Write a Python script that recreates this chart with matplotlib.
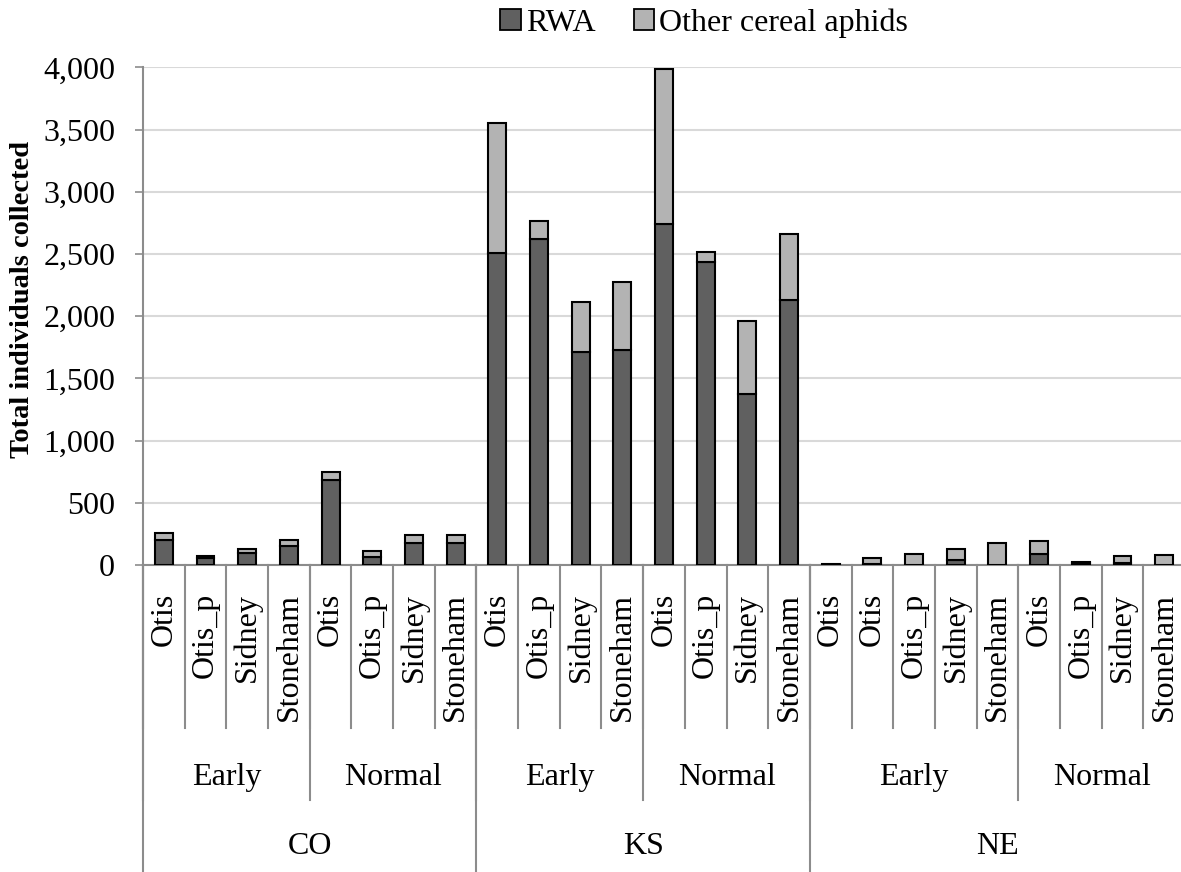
import matplotlib
matplotlib.use('Agg')
import matplotlib.pyplot as plt
from matplotlib.patches import Patch
import numpy as np

plt.rcParams['font.family'] = ['Liberation Serif', 'DejaVu Serif']

# data
states = ['CO', 'KS', 'NE']
state_sizes = [8, 8, 9]
timings = ['Early', 'Normal', 'Early', 'Normal', 'Early', 'Normal']
timing_sizes = [4, 4, 4, 4, 5, 4]
sites = ['Otis', 'Otis_p', 'Sidney', 'Stoneham', 'Otis', 'Otis_p', 'Sidney', 'Stoneham',
         'Otis', 'Otis_p', 'Sidney', 'Stoneham', 'Otis', 'Otis_p', 'Sidney', 'Stoneham',
         'Otis', 'Otis', 'Otis_p', 'Sidney', 'Stoneham', 'Otis', 'Otis_p', 'Sidney', 'Stoneham']
rwa = [200, 55, 100, 150, 680, 65, 180, 175,
       2510, 2625, 1715, 1730, 2740, 2440, 1375, 2130,
       3, 10, 3, 40, 3, 85, 20, 18, 3]
other = [55, 20, 30, 55, 70, 50, 65, 65,
         1045, 140, 400, 545, 1250, 75, 585, 530,
         7, 50, 82, 85, 172, 110, 4, 54, 77]

W, H = 1181, 872
fig = plt.figure(figsize=(W / 100, H / 100), dpi=100)
y0, y1 = 565, 67.5
ax = fig.add_axes([143 / W, 1 - y0 / H, 1042 / W, (y0 - y1) / H])

x = np.arange(len(sites))
dark = '#606060'
light = '#b3b3b3'
ax.bar(x, rwa, width=0.43, color=dark, edgecolor='black', linewidth=1.5, zorder=3)
ax.bar(x, other, bottom=rwa, width=0.43, color=light, edgecolor='black', linewidth=1.5, zorder=3)

ax.set_xlim(-0.5, len(sites) - 0.5)
ax.set_ylim(0, 4000)
ax.set_yticks(np.arange(0, 4001, 500))
ax.set_yticklabels([f'{v:,}' for v in range(0, 4001, 500)], fontsize=23)
ax.tick_params(axis='y', direction='out', length=6, width=1.2, color='#8c8c8c', pad=14)
ax.set_xticks([])
ax.grid(axis='y', color='#d9d9d9', linewidth=1.5, zorder=0)
for s in ['top', 'right']:
    ax.spines[s].set_visible(False)
ax.spines['left'].set_color('#8c8c8c')
ax.spines['bottom'].set_color('#8c8c8c')
ax.spines['left'].set_linewidth(1.5)
ax.spines['bottom'].set_linewidth(1.5)

ax.set_ylabel('Total individuals collected', fontsize=20.5, fontweight='bold')
ax.yaxis.set_label_coords((35 - 143) / 1042, (565 - 299) / 497.5)

# hierarchical category axis
ah = y0 - y1
def fy(py):
    return (y0 - py) / ah

tr = ax.get_xaxis_transform()
sep = '#8c8c8c'
for i in range(len(sites)):
    ax.text(i, fy(593), sites[i], rotation=90, ha='center', va='top',
            fontsize=23, transform=tr)
    ax.plot([i - 0.5, i - 0.5], [0, fy(728)], color=sep, lw=1.5, transform=tr, clip_on=False)

start = 0
for name, n in zip(timings, timing_sizes):
    ax.text(start + n / 2 - 0.5, fy(777), name, ha='center', va='center',
            fontsize=23, transform=tr)
    ax.plot([start - 0.5, start - 0.5], [0, fy(800)], color=sep, lw=1.5, transform=tr, clip_on=False)
    start += n

start = 0
for name, n in zip(states, state_sizes):
    ax.text(start + n / 2 - 0.5, fy(847), name, ha='center', va='center',
            fontsize=23, transform=tr)
    ax.plot([start - 0.5, start - 0.5], [0, fy(880)], color=sep, lw=1.5, transform=tr, clip_on=False)
    start += n

handles = [Patch(facecolor=dark, edgecolor='black', linewidth=1.3, label='RWA'),
           Patch(facecolor=light, edgecolor='black', linewidth=1.3, label='Other cereal aphids')]
fig.legend(handles=handles, loc='center', bbox_to_anchor=(704 / W, 1 - 23 / H), ncol=2,
           frameon=False, fontsize=23, handlelength=0.65, handleheight=0.65,
           handletextpad=0.15, columnspacing=1.2)

fig.savefig('out.png', dpi=100)
